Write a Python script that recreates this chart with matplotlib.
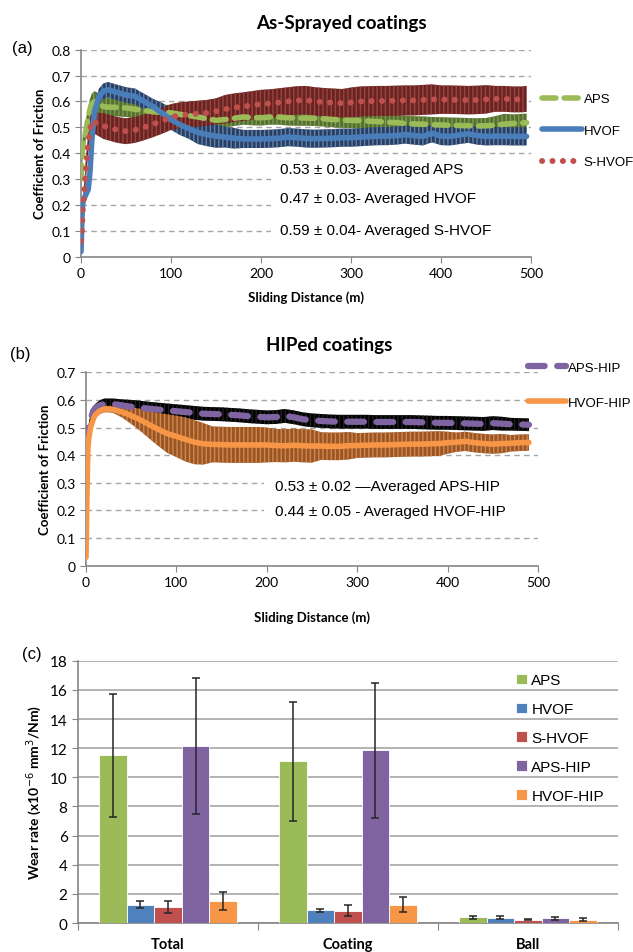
import numpy as np
import matplotlib
matplotlib.use("Agg")
import matplotlib.pyplot as plt
from matplotlib.patches import Rectangle

plt.rcParams['font.family'] = ['Lato', 'DejaVu Sans']
plt.rcParams['lines.scale_dashes'] = False

# ---------------- (a) as-sprayed friction curves ----------------
dist_a = [0, 1, 2, 4, 6, 8, 10, 12, 15, 20, 25, 30, 40, 50, 60, 70, 80, 90, 100,
          110, 120, 130, 140, 150, 160, 170, 180, 190, 200, 210, 220, 230, 240,
          250, 260, 270, 280, 290, 300, 310, 320, 330, 340, 350, 360, 370, 380,
          390, 400, 410, 420, 430, 440, 450, 460, 470, 480, 490, 495]
aps_mean = [0.30, 0.38, 0.43, 0.46, 0.50, 0.54, 0.57, 0.59, 0.60, 0.59, 0.58, 0.578,
            0.577, 0.575, 0.57, 0.565, 0.56, 0.558, 0.556, 0.55, 0.545, 0.54, 0.533,
            0.527, 0.53, 0.535, 0.54, 0.538, 0.537, 0.54, 0.54, 0.537, 0.536, 0.536,
            0.535, 0.533, 0.53, 0.528, 0.527, 0.526, 0.524, 0.522, 0.52, 0.518, 0.515,
            0.513, 0.512, 0.51, 0.509, 0.508, 0.507, 0.506, 0.505, 0.506, 0.508,
            0.512, 0.515, 0.517, 0.518]
aps_err = [0.03, 0.04, 0.04, 0.04, 0.04, 0.04, 0.04, 0.04, 0.04, 0.04, 0.04, 0.035,
           0.035, 0.035, 0.035, 0.03, 0.03, 0.03, 0.03, 0.03, 0.03, 0.03, 0.03, 0.03,
           0.03, 0.03, 0.03, 0.03, 0.03, 0.03, 0.03, 0.03, 0.03, 0.03, 0.03, 0.03,
           0.03, 0.03, 0.03, 0.03, 0.03, 0.03, 0.03, 0.03, 0.03, 0.03, 0.03, 0.03,
           0.03, 0.03, 0.03, 0.03, 0.03, 0.03, 0.035, 0.04, 0.035, 0.035, 0.035]
hvof_mean = [0.02, 0.15, 0.21, 0.23, 0.245, 0.26, 0.33, 0.45, 0.56, 0.62, 0.64, 0.645,
             0.635, 0.625, 0.62, 0.60, 0.58, 0.555, 0.53, 0.51, 0.495, 0.48, 0.472,
             0.466, 0.462, 0.458, 0.455, 0.455, 0.455, 0.456, 0.458, 0.462, 0.46,
             0.457, 0.456, 0.457, 0.458, 0.46, 0.46, 0.462, 0.464, 0.466, 0.466,
             0.468, 0.472, 0.468, 0.465, 0.477, 0.466, 0.465, 0.47, 0.475, 0.468,
             0.465, 0.466, 0.466, 0.465, 0.465, 0.465]
hvof_err = [0.01, 0.02, 0.02, 0.02, 0.02, 0.02, 0.03, 0.03, 0.03, 0.03, 0.03, 0.03,
            0.03, 0.03, 0.03, 0.03, 0.03, 0.04, 0.04, 0.04, 0.04, 0.045, 0.045, 0.045,
            0.04, 0.04, 0.035, 0.035, 0.035, 0.035, 0.035, 0.035, 0.035, 0.035, 0.035,
            0.035, 0.035, 0.035, 0.035, 0.035, 0.035, 0.035, 0.035, 0.035, 0.035,
            0.035, 0.035, 0.035, 0.035, 0.035, 0.035, 0.035, 0.035, 0.035, 0.035,
            0.035, 0.035, 0.035, 0.035]
shvof_mean = [0.06, 0.10, 0.19, 0.27, 0.36, 0.44, 0.49, 0.525, 0.52, 0.51, 0.505, 0.50,
              0.49, 0.485, 0.49, 0.50, 0.512, 0.525, 0.54, 0.547, 0.55, 0.553, 0.556,
              0.562, 0.57, 0.576, 0.58, 0.585, 0.59, 0.592, 0.596, 0.60, 0.604, 0.605,
              0.60, 0.597, 0.595, 0.593, 0.596, 0.60, 0.601, 0.602, 0.602, 0.603,
              0.604, 0.604, 0.606, 0.608, 0.607, 0.607, 0.606, 0.605, 0.606, 0.608,
              0.61, 0.61, 0.608, 0.608, 0.61]
shvof_err = [0.02, 0.03, 0.03, 0.035, 0.04, 0.04, 0.045, 0.045, 0.045, 0.045, 0.05,
             0.05, 0.05, 0.05, 0.05, 0.05, 0.05, 0.05, 0.05, 0.05, 0.05, 0.05, 0.05,
             0.05, 0.055, 0.055, 0.055, 0.055, 0.055, 0.055, 0.055, 0.055, 0.055,
             0.055, 0.055, 0.055, 0.055, 0.055, 0.058, 0.058, 0.058, 0.058, 0.058,
             0.058, 0.058, 0.058, 0.058, 0.058, 0.055, 0.055, 0.055, 0.055, 0.055,
             0.055, 0.05, 0.05, 0.05, 0.05, 0.05]

# ---------------- (b) HIPed friction curves ----------------
dist_b = [0, 1, 2, 3, 5, 8, 10, 15, 20, 25, 30, 40, 50, 60, 70, 80, 90, 100, 110,
          120, 130, 140, 150, 160, 170, 180, 190, 200, 210, 220, 230, 240, 250, 260,
          270, 280, 290, 300, 310, 320, 330, 340, 350, 360, 370, 380, 390, 400, 410,
          420, 430, 440, 450, 460, 470, 480, 490]
apship_mean = [0.44, 0.46, 0.48, 0.50, 0.53, 0.56, 0.57, 0.58, 0.585, 0.585, 0.585,
               0.58, 0.575, 0.572, 0.568, 0.565, 0.562, 0.559, 0.556, 0.553, 0.55,
               0.549, 0.548, 0.546, 0.544, 0.541, 0.539, 0.537, 0.538, 0.542, 0.537,
               0.53, 0.526, 0.524, 0.522, 0.521, 0.521, 0.521, 0.521, 0.52, 0.52,
               0.52, 0.52, 0.52, 0.519, 0.518, 0.517, 0.517, 0.516, 0.515, 0.514,
               0.513, 0.516, 0.514, 0.512, 0.511, 0.51]
apship_err = [0.01, 0.015, 0.015, 0.015, 0.015, 0.015, 0.015, 0.018, 0.02, 0.02, 0.02,
              0.022, 0.025, 0.025, 0.025, 0.025, 0.025, 0.025, 0.025, 0.025, 0.025,
              0.025, 0.025, 0.025, 0.025, 0.025, 0.025, 0.025, 0.025, 0.025, 0.025,
              0.025, 0.025, 0.025, 0.025, 0.025, 0.025, 0.025, 0.025, 0.025, 0.025,
              0.025, 0.025, 0.025, 0.025, 0.025, 0.025, 0.025, 0.025, 0.025, 0.025,
              0.025, 0.025, 0.025, 0.023, 0.023, 0.023]
hvofhip_mean = [0.03, 0.25, 0.42, 0.46, 0.50, 0.53, 0.545, 0.56, 0.567, 0.567, 0.565,
                0.556, 0.543, 0.528, 0.51, 0.493, 0.478, 0.468, 0.457, 0.447, 0.441,
                0.439, 0.438, 0.437, 0.437, 0.437, 0.437, 0.437, 0.435, 0.434, 0.436,
                0.434, 0.433, 0.433, 0.432, 0.432, 0.434, 0.435, 0.436, 0.437, 0.437,
                0.438, 0.439, 0.44, 0.44, 0.441, 0.442, 0.445, 0.447, 0.45, 0.445,
                0.442, 0.44, 0.442, 0.443, 0.445, 0.446]
hvofhip_err = [0.0, 0.01, 0.01, 0.01, 0.01, 0.01, 0.01, 0.012, 0.012, 0.012, 0.012,
               0.02, 0.03, 0.04, 0.05, 0.06, 0.07, 0.075, 0.08, 0.08, 0.075, 0.065,
               0.065, 0.065, 0.065, 0.065, 0.065, 0.063, 0.06, 0.06, 0.06, 0.06, 0.06,
               0.05, 0.05, 0.05, 0.05, 0.045, 0.045, 0.045, 0.045, 0.045, 0.045,
               0.045, 0.045, 0.045, 0.045, 0.04, 0.035, 0.035, 0.035, 0.035, 0.035,
               0.035, 0.03, 0.03, 0.03]

# ---------------- (c) wear rates ----------------
groups = ['Total', 'Coating', 'Ball']
bar_names = ['APS', 'HVOF', 'S-HVOF', 'APS-HIP', 'HVOF-HIP']
wear = {
    'APS':      [11.5, 11.1, 0.40],
    'HVOF':     [1.25, 0.87, 0.37],
    'S-HVOF':   [1.10, 0.85, 0.22],
    'APS-HIP':  [12.15, 11.85, 0.32],
    'HVOF-HIP': [1.50, 1.27, 0.22],
}
wear_err = {
    'APS':      [4.25, 4.1, 0.10],
    'HVOF':     [0.25, 0.12, 0.10],
    'S-HVOF':   [0.40, 0.40, 0.04],
    'APS-HIP':  [4.7, 4.65, 0.10],
    'HVOF-HIP': [0.60, 0.50, 0.10],
}
bar_colors = ['#9BBB59', '#4F81BD', '#C0504D', '#8064A2', '#F79646']

NARROW = ['Liberation Sans Narrow', 'Liberation Sans', 'DejaVu Sans']
GRID = '#A6A6A6'
AXC = '#868686'


def style_friction_axes(ax, ymax):
    ax.set_xlim(0, 500)
    ax.set_ylim(0, ymax)
    ax.set_xticks(np.arange(0, 501, 100))
    ax.set_yticks(np.round(np.arange(0, ymax + 0.01, 0.1), 1))
    ax.set_yticklabels(['0'] + ['%.1f' % v for v in np.arange(0.1, ymax + 0.01, 0.1)])
    ax.yaxis.grid(True, color=GRID, linestyle=(0, (4, 3)), linewidth=1.0, zorder=0)
    ax.set_axisbelow(True)
    for s in ['top', 'right']:
        ax.spines[s].set_visible(False)
    for s in ['left', 'bottom']:
        ax.spines[s].set_color(AXC)
        ax.spines[s].set_linewidth(1.2)
    ax.tick_params(axis='both', colors=AXC, labelcolor='black', labelsize=10, length=4)
    ax.set_ylabel('Coefficient of Friction', fontsize=9.5, fontweight='bold')


def band(ax, x, m, e, face, hatchc):
    m = np.asarray(m)
    e = np.asarray(e)
    ax.fill_between(x, m - e, m + e, facecolor=face, edgecolor=hatchc,
                    hatch='||||', linewidth=0, zorder=2)


fig = plt.figure(figsize=(6.33, 9.53), dpi=100)

# ---- panel (a)
ax1 = fig.add_axes([0.128, 0.7296, 0.711, 0.2172])
style_friction_axes(ax1, 0.8)
band(ax1, dist_a, aps_mean, aps_err, '#55702E', '#7E9A55')
band(ax1, dist_a, hvof_mean, hvof_err, '#24406A', '#6A7F9C')
band(ax1, dist_a, shvof_mean, shvof_err, '#6E211E', '#8E4A45')
ax1.plot(dist_a, aps_mean, color='#9BBB59', lw=4, dashes=(10, 6),
         dash_capstyle='round', zorder=4, label='APS')
ax1.plot(dist_a, hvof_mean, color='#4A7EBB', lw=4, solid_capstyle='round',
         zorder=4, label='HVOF')
ax1.plot(dist_a, shvof_mean, color='#C0504D', lw=4.3, dashes=(0.1, 7.4),
         dash_capstyle='round', zorder=5, label='S-HVOF')
ax1.add_patch(Rectangle((0.422, 0.06), 0.578, 0.41, transform=ax1.transAxes,
                        facecolor='white', edgecolor='none', zorder=1))
for yv, txt in zip([0.34, 0.225, 0.105],
                   ['0.53 \u00b1 0.03- Averaged APS', '0.47 \u00b1 0.03- Averaged HVOF',
                    '0.59 \u00b1 0.04- Averaged S-HVOF']):
    ax1.text(221, yv, txt, fontsize=11, va='center', ha='left', family=NARROW, zorder=6)
ax1.set_xlabel('Sliding Distance (m)', fontsize=9.5, fontweight='bold', labelpad=8)
ax1.legend(loc='upper left', bbox_to_anchor=(1.025, 0.791), frameon=False,
           handlelength=3.0, handletextpad=0.15, labelspacing=1.47,
           borderaxespad=0, borderpad=0, prop={'family': NARROW, 'size': 9.5})
fig.text(341 / 633, 1 - 24 / 953, 'As-Sprayed coatings', ha='center', va='center',
         fontsize=13.5, fontweight='bold')
fig.text(12 / 633, 1 - 48 / 953, '(a)', ha='left', va='center', fontsize=12,
         family=NARROW)

# ---- panel (b)
ax2 = fig.add_axes([0.1359, 0.4054, 0.714, 0.2029])
style_friction_axes(ax2, 0.7)
band(ax2, dist_b, apship_mean, apship_err, '#000000', '#202020')
band(ax2, dist_b, hvofhip_mean, hvofhip_err, '#9E5420', '#C98A55')
ax2.plot(dist_b, apship_mean, color='#8064A2', lw=4.5, dashes=(12, 9),
         dash_capstyle='round', zorder=4, label='APS-HIP')
ax2.plot(dist_b, hvofhip_mean, color='#F79646', lw=4, solid_capstyle='round',
         zorder=4, label='HVOF-HIP')
ax2.add_patch(Rectangle((0.394, 0.214), 0.606, 0.256, transform=ax2.transAxes,
                        facecolor='white', edgecolor='none', zorder=1))
ax2.text(209, 0.288, '0.53 \u00b1 0.02 \u2014Averaged APS-HIP', fontsize=11,
         va='center', ha='left', family=NARROW, zorder=6)
ax2.text(209, 0.198, '0.44 \u00b1 0.05 - Averaged HVOF-HIP', fontsize=11,
         va='center', ha='left', family=NARROW, zorder=6)
ax2.set_xlabel('Sliding Distance (m)', fontsize=9.5, fontweight='bold', labelpad=16)
ax2.legend(loc='upper left', bbox_to_anchor=(0.978, 1.054), frameon=False,
           handlelength=2.9, handletextpad=0.1, labelspacing=1.7,
           borderaxespad=0, borderpad=0, prop={'family': NARROW, 'size': 9.5})
fig.text(329 / 633, 1 - 345 / 953, 'HIPed coatings', ha='center', va='center',
         fontsize=13.5, fontweight='bold')
fig.text(10 / 633, 1 - 355 / 953, '(b)', ha='left', va='center', fontsize=12,
         family=NARROW)

# ---- panel (c)
ax3 = fig.add_axes([0.1232, 0.0304, 0.853, 0.2752])
x = np.arange(len(groups))
bw = 0.153
for i, (name, col) in enumerate(zip(bar_names, bar_colors)):
    pos = x + (i - 2) * bw
    ax3.bar(pos, wear[name], width=bw, color=col, edgecolor='white',
            linewidth=0.6, label=name, zorder=3)
    ax3.errorbar(pos, wear[name], yerr=wear_err[name], fmt='none', ecolor='#262626',
                 elinewidth=1.1, capsize=3, capthick=1.1, zorder=4)
ax3.set_xlim(-0.5, 2.5)
ax3.set_ylim(0, 18)
ax3.set_yticks(np.arange(0, 19, 2))
ax3.set_xticks([-0.5, 0.5, 1.5, 2.5])
ax3.set_xticklabels([])
ax3.set_xticks(x, minor=True)
ax3.set_xticklabels(groups, minor=True, fontsize=10.5, fontweight='bold')
ax3.tick_params(axis='x', which='minor', length=0, pad=10)
ax3.tick_params(axis='x', which='major', length=5, colors=AXC)
ax3.tick_params(axis='y', length=4, colors=AXC, labelcolor='black', labelsize=11)
ax3.yaxis.grid(True, color=GRID, linewidth=1.2, zorder=0)
ax3.set_axisbelow(True)
for s in ['top', 'right']:
    ax3.spines[s].set_visible(False)
for s in ['left', 'bottom']:
    ax3.spines[s].set_color(AXC)
    ax3.spines[s].set_linewidth(1.2)
ax3.set_ylabel('Wear rate (x10$^{-6}$ mm$^{3}$/Nm)', fontsize=10, fontweight='bold')
ax3.legend(loc='upper left', bbox_to_anchor=(0.8, 0.975), frameon=False,
           handlelength=0.7, handleheight=0.7, handletextpad=0.3, labelspacing=0.97,
           borderaxespad=0, prop={'family': NARROW, 'size': 11})
fig.text(22 / 633, 1 - 655 / 953, '(c)', ha='left', va='center', fontsize=12,
         family=NARROW)

fig.savefig('out.png', dpi=100)
